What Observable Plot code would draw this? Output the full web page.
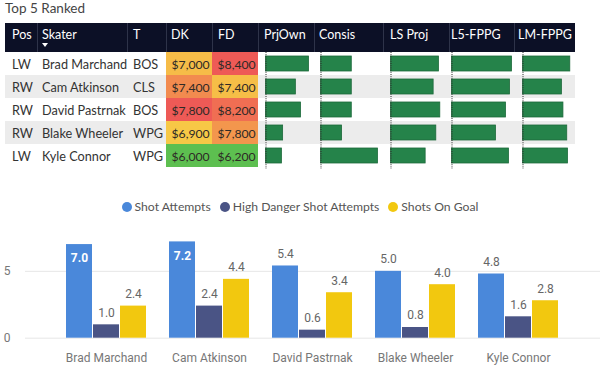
<!DOCTYPE html>
<html><head><meta charset="utf-8">
<script src="https://cdn.jsdelivr.net/npm/d3@7"></script>
<script src="https://cdn.jsdelivr.net/npm/@observablehq/plot@0.6"></script>
<style>
html,body{margin:0;padding:0;background:#fff;width:600px;height:377px;overflow:hidden;}
#root{position:relative;width:600px;height:377px;font-family:"Lato",sans-serif;color:#333;}
.abs{position:absolute;white-space:nowrap;}
.hdr{color:#fff;font-size:12.5px;line-height:17px;height:17px;}
.cellTxt{font-size:12.7px;line-height:23px;height:23px;color:#333;}
.legend{position:absolute;left:0;top:199px;width:600px;display:flex;justify-content:center;gap:9px;font-size:12.2px;color:#555;line-height:16px;}
.legend span.item{display:flex;align-items:center;gap:3px;}
.legend span.dot{width:10px;height:10px;border-radius:50%;display:inline-block;}
</style></head><body><div id="root"></div>
<script>
// ---------- data ----------
const positions = ["LW", "RW", "RW", "RW", "LW"];
const skaters = ["Brad Marchand", "Cam Atkinson", "David Pastrnak", "Blake Wheeler", "Kyle Connor"];
const teams = ["BOS", "CLS", "BOS", "WPG", "WPG"];
const dkSalary = [7000, 7400, 7800, 6900, 6000];
const fdSalary = [8400, 7400, 8200, 7800, 6200];
const prjOwn = [10.8, 7.5, 8.8, 4.3, 4.0];
const consis = [54, 54, 54, 37, 100];
const lsProj = [3.6, 3.2, 3.7, 3.4, 2.6];
const l5Fppg = [3.0, 2.9, 2.7, 2.2, 2.85];
const lmFppg = [3.1, 2.55, 2.65, 2.9, 2.95];
const headers = ["Pos", "Skater", "T", "DK", "FD", "PrjOwn", "Consis", "LS Proj", "L5-FPPG", "LM-FPPG"];

const seriesNames = ["Shot Attempts", "High Danger Shot Attempts", "Shots On Goal"];
const shotAttempts = [7.0, 7.2, 5.4, 5.0, 4.8];
const highDanger = [1.0, 2.4, 0.6, 0.8, 1.6];
const shotsOnGoal = [2.4, 4.4, 3.4, 4.0, 2.8];
const yTicks = [0, 5];

// ---------- layout / style ----------
const root = document.getElementById("root");
const seriesColors = ["#4a88da", "#4a5485", "#f2c80f"];
const heatRange = ["#5dbf50", "#f7c846", "#ee5a56"];
const barGreen = "#25834a";
const headerX = [12, 42, 133, 171, 218, 264, 319, 390, 451, 518];
const dividers = [37, 127, 166, 212, 258, 314, 383, 449, 514];
const tableLeft = 5, tableRight = 575, headTop = 23, headH = 29, rowH = 23;
const bodyTop = headTop + headH;

function div(cls, style, text) {
  const d = document.createElement("div");
  d.className = cls;
  Object.assign(d.style, style);
  if (text != null) d.textContent = text;
  root.appendChild(d);
  return d;
}

// title
div("abs", {left: "5px", top: "0px", fontSize: "13.5px", lineHeight: "17px", color: "#444"}, "Top 5 Ranked");

// header
div("abs", {left: tableLeft + "px", top: headTop + "px", width: (tableRight - tableLeft) + "px", height: headH + "px", background: "#0c1026"});
dividers.forEach(x => div("abs", {left: x + "px", top: headTop + "px", width: "1px", height: headH + "px", background: "#2e3349"}));
headers.forEach((h, i) => div("abs hdr", {left: headerX[i] + "px", top: (headTop + 3) + "px"}, h));
// sort caret under Skater
div("abs", {left: "42px", top: "43px", width: 0, height: 0, borderLeft: "3.5px solid transparent", borderRight: "3.5px solid transparent", borderTop: "4px solid #fff"});

// row stripes + text
skaters.forEach((s, i) => {
  const top = bodyTop + i * rowH;
  if (i % 2 === 1) div("abs", {left: tableLeft + "px", top: top + "px", width: (tableRight - tableLeft) + "px", height: rowH + "px", background: "#ececec"});
  div("abs cellTxt", {left: headerX[0] + "px", top: (top + 1) + "px"}, positions[i]);
  div("abs cellTxt", {left: headerX[1] + "px", top: (top + 1) + "px"}, s);
  div("abs cellTxt", {left: headerX[2] + "px", top: (top + 1) + "px"}, teams[i]);
});

const rows = skaters.map((s, i) => ({skater: s, dk: dkSalary[i], fd: fdSalary[i],
  prjOwn: prjOwn[i], consis: consis[i], lsProj: lsProj[i], l5: l5Fppg[i], lm: lmFppg[i]}));
const money = d3.format("$,");

// heatmap columns (DK, FD)
function heatColumn(key, values, left, width) {
  const ext = d3.extent(values);
  const p = Plot.plot({
    width, height: rowH * skaters.length,
    margin: 0,
    x: {axis: null},
    y: {domain: skaters, axis: null, padding: 0},
    color: {type: "linear", domain: [ext[0], (ext[0] + ext[1]) / 2, ext[1]], range: heatRange, interpolate: "rgb"},
    style: {fontFamily: "Lato", fontSize: "12.2px", background: "transparent", overflow: "visible"},
    marks: [
      Plot.cell(rows, {y: "skater", fill: key, inset: 0}),
      Plot.text(rows, {y: "skater", text: d => money(d[key]), frameAnchor: "left", dx: 5, dy: 1.5, textAnchor: "start", fill: "#2e2a26"})
    ]
  });
  Object.assign(p.style, {position: "absolute", left: left + "px", top: bodyTop + "px"});
  root.appendChild(p);
}
heatColumn("dk", dkSalary, 166, 46);
heatColumn("fd", fdSalary, 212, 46);

// data-bar columns
const barCols = [
  {key: "prjOwn", values: prjOwn, left: 264.5, maxPx: 43},
  {key: "consis", values: consis, left: 320, maxPx: 57},
  {key: "lsProj", values: lsProj, left: 389.5, maxPx: 49.3},
  {key: "l5", values: l5Fppg, left: 450.5, maxPx: 60},
  {key: "lm", values: lmFppg, left: 522, maxPx: 47.3}
];
barCols.forEach(c => {
  const p = Plot.plot({
    width: c.maxPx + 1, height: rowH * skaters.length + 2,
    marginLeft: 0.5, marginRight: 0.5, marginTop: 0, marginBottom: 2,
    x: {domain: [0, d3.max(c.values)], axis: null},
    y: {domain: skaters, axis: null, paddingInner: 0.33, paddingOuter: 0.165},
    style: {background: "transparent", overflow: "visible"},
    marks: [
      Plot.barX(rows, {y: "skater", x: c.key, fill: barGreen, stroke: "#1d6a3b", strokeWidth: 0.8}),
      Plot.ruleX([0], {stroke: "#2a2a2a", strokeDasharray: "1,1.2", strokeWidth: 1, insetBottom: -2})
    ]
  });
  Object.assign(p.style, {position: "absolute", left: c.left + "px", top: bodyTop + "px"});
  root.appendChild(p);
});

// legend
const lg = document.createElement("div");
lg.className = "legend";
seriesNames.forEach((n, i) => {
  const it = document.createElement("span"); it.className = "item";
  const dot = document.createElement("span"); dot.className = "dot"; dot.style.background = seriesColors[i];
  const t = document.createElement("span"); t.textContent = n;
  it.appendChild(dot); it.appendChild(t); lg.appendChild(it);
});
root.appendChild(lg);

// grouped bar chart
const long = [];
[shotAttempts, highDanger, shotsOnGoal].forEach((arr, si) => arr.forEach((v, i) => long.push({skater: skaters[i], series: seriesNames[si], si, value: v})));
const W = 600, H = 159, mL = 25, mR = 0, mT = 12.7, mB = 39.3;
const xOpts = {domain: skaters, paddingInner: 0.221, paddingOuter: 0.375};
const xs = Plot.scale({x: {type: "band", ...xOpts, range: [mL, W - mR]}});
const sub = xs.bandwidth / 3;
const fmt = d3.format(".1f");
const insideThreshold = 6.5;
const marks = [Plot.ruleY(yTicks, {stroke: "#e6e6e6"})];
seriesNames.forEach((n, si) => {
  const d = long.filter(r => r.si === si);
  marks.push(Plot.barY(d, {x: "skater", y: "value", fill: seriesColors[si], insetLeft: si * sub, insetRight: (2 - si) * sub}));
  marks.push(Plot.text(d.filter(r => r.value <= insideThreshold), {x: "skater", y: "value", text: r => fmt(r.value), dx: (si - 1) * sub, dy: -12, fill: "#666"}));
  marks.push(Plot.text(d.filter(r => r.value > insideThreshold), {x: "skater", y: "value", text: r => fmt(r.value), dx: (si - 1) * sub, dy: 14, fill: "#fff", fontWeight: "bold"}));
});
const chart = Plot.plot({
  width: W, height: H, marginLeft: mL, marginRight: mR, marginTop: mT, marginBottom: mB,
  x: {...xOpts, label: null, tickSize: 0, tickPadding: 15},
  y: {domain: [0, 8], ticks: yTicks, label: null, tickSize: 0, tickPadding: 15},
  style: {fontFamily: "Roboto", fontSize: "12px", color: "#777", background: "transparent", overflow: "visible"},
  marks
});
Object.assign(chart.style, {position: "absolute", left: "0px", top: "218px"});
root.appendChild(chart);
</script>
</body></html>
